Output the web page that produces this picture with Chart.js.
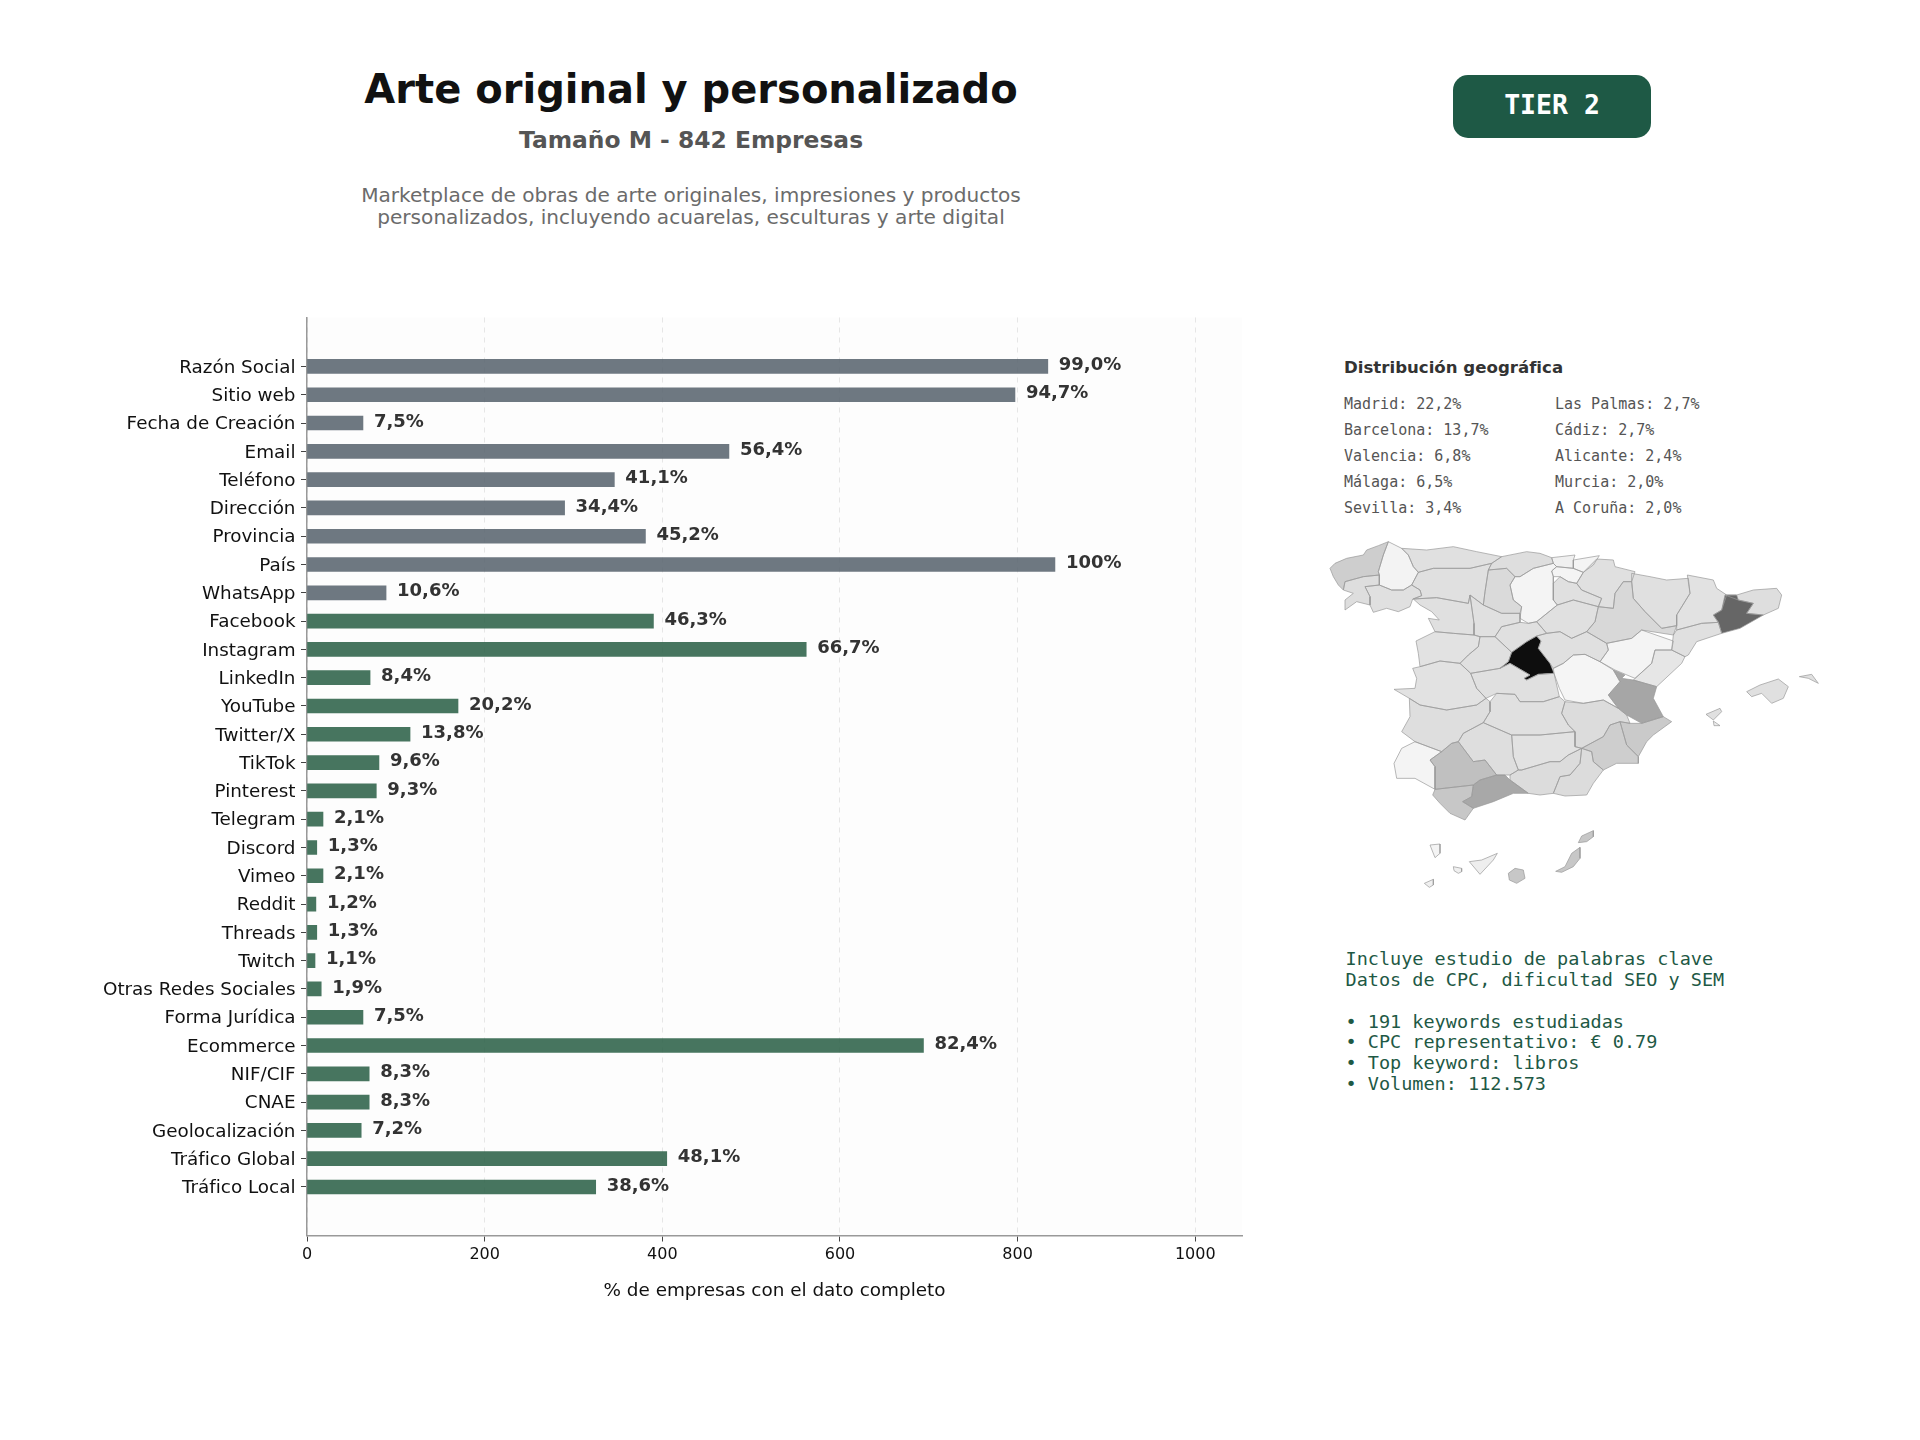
<!DOCTYPE html>
<html lang="es">
<head>
<meta charset="utf-8">
<title>Arte original y personalizado</title>
<script src="https://cdn.jsdelivr.net/npm/chart.js@4/dist/chart.umd.min.js"></script>
<style>
  html, body { margin: 0; background: #fff; }
  body { position: relative; width: 1920px; height: 1440px; overflow: hidden; font-family: "DejaVu Sans", sans-serif; }
  canvas { position: absolute; }
  .txt { position: absolute; white-space: pre; line-height: 1; }
  .mid { transform: translate(-50%, -50%); }
  .left { transform: translateY(-50%); }
  .mono { font-family: "DejaVu Sans Mono", monospace; }
  #badge { position: absolute; left: 1453px; top: 75px; width: 198px; height: 63px; border-radius: 15px; background: #1e5945; }
  #mapChart { filter: blur(0.4px); }
</style>
</head>
<body>
<div class="txt mid" style="left:691px;top:89px;font-size:40px;font-weight:bold;color:#111">Arte original y personalizado</div>
<div class="txt mid" style="left:691px;top:141px;font-size:23.4px;font-weight:bold;color:#555">Tamaño M - 842 Empresas</div>
<div class="txt mid" style="left:691px;top:195px;font-size:20.1px;color:#6b6b6b">Marketplace de obras de arte originales, impresiones y productos</div>
<div class="txt mid" style="left:691px;top:217px;font-size:20.1px;color:#6b6b6b">personalizados, incluyendo acuarelas, esculturas y arte digital</div>
<div id="badge"></div>
<div class="txt mid mono" style="left:1552px;top:105px;font-size:26.5px;font-weight:bold;color:#fff">TIER 2</div>
<div class="txt left" style="left:1344px;top:368px;font-size:16.6px;font-weight:bold;color:#333">Distribución geográfica</div>
<div id="geoList"></div>
<div id="keywordBox"></div>
<canvas id="barChart" width="1920" height="1440" style="left:0;top:0;width:1920px;height:1440px"></canvas>
<canvas id="mapChart" width="560" height="400" style="left:1300px;top:520px;width:560px;height:400px"></canvas>

<script>
const categories = ['Razón Social', 'Sitio web', 'Fecha de Creación', 'Email', 'Teléfono', 'Dirección', 'Provincia', 'País', 'WhatsApp',
  'Facebook', 'Instagram', 'LinkedIn', 'YouTube', 'Twitter/X', 'TikTok', 'Pinterest', 'Telegram', 'Discord', 'Vimeo', 'Reddit', 'Threads', 'Twitch',
  'Otras Redes Sociales', 'Forma Jurídica', 'Ecommerce', 'NIF/CIF', 'CNAE', 'Geolocalización', 'Tráfico Global', 'Tráfico Local'];
const companyCounts = [834, 797, 63, 475, 346, 290, 381, 842, 89, 390, 562, 71, 170, 116, 81, 78, 18, 11, 18, 10, 11, 9, 16, 63, 694, 70, 70, 61, 405, 325];
const percentLabels = ['99,0%', '94,7%', '7,5%', '56,4%', '41,1%', '34,4%', '45,2%', '100%', '10,6%', '46,3%', '66,7%', '8,4%', '20,2%', '13,8%', '9,6%', '9,3%',
  '2,1%', '1,3%', '2,1%', '1,2%', '1,3%', '1,1%', '1,9%', '7,5%', '82,4%', '8,3%', '8,3%', '7,2%', '48,1%', '38,6%'];
const xTickValues = [0, 200, 400, 600, 800, 1000];
const basicFieldCount = 9;

const geoLeft = ['Madrid: 22,2%', 'Barcelona: 13,7%', 'Valencia: 6,8%', 'Málaga: 6,5%', 'Sevilla: 3,4%'];
const geoRight = ['Las Palmas: 2,7%', 'Cádiz: 2,7%', 'Alicante: 2,4%', 'Murcia: 2,0%', 'A Coruña: 2,0%'];
const keywordLines = ['Incluye estudio de palabras clave', 'Datos de CPC, dificultad SEO y SEM', '', '• 191 keywords estudiadas', '• CPC representativo: € 0.79', '• Top keyword: libros', '• Volumen: 112.573'];

// province outlines, map units
const provinceNames = ['A Coruña', 'Pontevedra', 'Lugo', 'Ourense', 'Asturias', 'Cantabria', 'Vizcaya', 'Guipúzcoa', 'Álava', 'Navarra', 'La Rioja', 'Burgos', 'Palencia', 'León', 'Zamora',
  'Valladolid', 'Soria', 'Segovia', 'Salamanca', 'Ávila', 'Madrid', 'Guadalajara', 'Zaragoza', 'Huesca', 'Lleida', 'Girona', 'Barcelona', 'Tarragona', 'Teruel', 'Castellón', 'Valencia',
  'Cuenca', 'Toledo', 'Cáceres', 'Badajoz', 'Ciudad Real', 'Albacete', 'Huelva', 'Sevilla', 'Córdoba', 'Jaén', 'Granada', 'Almería', 'Málaga', 'Cádiz', 'Murcia', 'Alicante',
  'Mallorca', 'Menorca', 'Ibiza', 'Formentera', 'La Palma', 'Tenerife', 'La Gomera', 'El Hierro', 'Gran Canaria', 'Fuerteventura', 'Lanzarote'];
const provinceShares = [2.0, 1.2, 0.15, 1.1, 1.1, 1.2, 0.3, 0.1, 0.1, 1.1, 1.1, 0.1, 1.4, 1.1, 1.1,
  1.1, 1.1, 1.1, 1.0, 1.1, 22.2, 1.1, 1.5, 1.1, 1.0, 1.2, 13.7, 1.1, 0.1, 0.8, 6.8,
  0.05, 1.1, 1.0, 1.2, 1.1, 1.3, 0.1, 3.4, 1.2, 1.0, 1.3, 1.3, 6.5, 2.7, 2.0, 2.4,
  1.1, 1.1, 1.1, 0.5, 0.1, 0.4, 0.3, 0.3, 2.7, 2.7, 2.7];
const shadeStops = [0, 2, 3.4, 6.8, 13.7, 22.2];
const shadeLevels = [246, 206, 192, 166, 102, 14];
const provinceOutlines = [
  [[30,100],[45,85],[80,70],[130,60],[140,45],[175,32],[205,20],[190,60],[175,110],[178,120],[130,125],[75,140],[70,165],[55,150],[40,125]],
  [[75,225],[75,195],[100,175],[70,165],[75,140],[130,125],[178,120],[178,150],[135,155],[150,185],[150,210],[110,200]],
  [[205,20],[245,40],[265,60],[280,95],[295,112],[275,150],[250,165],[215,165],[178,150],[178,120],[175,110],[190,60]],
  [[135,155],[178,150],[215,165],[250,165],[275,150],[300,165],[305,182],[278,192],[270,215],[235,230],[200,220],[160,232],[150,210],[150,185]],
  [[245,40],[320,45],[400,35],[470,50],[545,65],[515,85],[450,100],[340,100],[295,112],[280,95],[265,60]],
  [[545,65],[620,50],[660,55],[695,68],[700,85],[640,100],[600,125],[585,125],[560,100],[505,105],[515,85]],
  [[695,68],[765,60],[760,75],[760,100],[710,95],[700,85]],
  [[760,75],[838,62],[820,90],[790,112],[760,100]],
  [[695,108],[710,95],[760,100],[790,112],[770,145],[745,140],[720,125],[700,125]],
  [[790,112],[830,72],[880,75],[885,95],[945,110],[935,140],[910,140],[885,175],[880,220],[835,215],[845,190],[785,165],[770,145]],
  [[700,145],[720,125],[745,140],[770,145],[785,165],[845,190],[835,215],[760,195],[712,210],[700,195]],
  [[570,150],[585,125],[600,125],[640,100],[700,85],[710,95],[695,108],[700,125],[700,145],[700,195],[712,210],[650,260],[625,265],[600,250],[605,215],[580,195]],
  [[505,105],[560,100],[585,125],[570,150],[580,195],[605,215],[600,235],[545,235],[490,210],[495,170]],
  [[295,112],[340,100],[450,100],[515,85],[505,105],[495,170],[490,210],[450,180],[445,205],[350,188],[280,192],[305,182],[300,165],[275,150]],
  [[280,192],[350,188],[445,205],[450,180],[462,265],[462,300],[400,295],[345,290],[325,250],[358,255],[335,230],[300,210]],
  [[450,180],[490,210],[545,235],[600,235],[600,262],[545,275],[525,305],[480,305],[462,300],[462,265]],
  [[650,260],[712,210],[760,195],[835,215],[825,260],[800,290],[755,310],[720,290],[680,295]],
  [[545,275],[600,262],[625,265],[650,260],[680,295],[650,303],[620,320],[575,352],[525,305]],
  [[288,318],[345,290],[400,295],[462,300],[480,305],[475,335],[445,360],[420,385],[360,378],[300,395],[295,355]],
  [[480,305],[525,305],[575,352],[565,380],[540,400],[452,415],[420,385],[445,360],[475,335]],
  [[650,303],[663,318],[655,340],[690,385],[702,415],[655,418],[620,435],[612,430],[630,420],[570,385],[540,400],[565,380],[575,352],[620,320]],
  [[680,295],[720,290],[755,310],[800,290],[860,325],[865,345],[840,380],[795,358],[760,360],[730,385],[700,400],[690,385],[655,340],[663,318],[650,303]],
  [[885,175],[910,140],[935,140],[940,190],[975,230],[1025,280],[1070,272],[1060,300],[965,285],[935,310],[860,325],[800,290],[825,260],[835,215],[880,220]],
  [[935,115],[990,125],[1040,135],[1105,130],[1110,175],[1070,240],[1070,272],[1025,280],[975,230],[940,190],[935,140]],
  [[1102,120],[1180,135],[1190,160],[1220,180],[1205,225],[1180,240],[1195,262],[1145,265],[1070,285],[1070,240],[1110,175]],
  [[1215,180],[1250,180],[1300,165],[1370,160],[1385,180],[1375,220],[1330,240],[1280,235],[1300,205],[1255,195]],
  [[1215,180],[1250,180],[1255,195],[1300,205],[1280,235],[1330,240],[1260,280],[1205,295],[1195,262],[1180,240],[1205,225]],
  [[1195,262],[1205,295],[1130,320],[1105,360],[1095,365],[1055,345],[1060,300],[1070,285],[1145,265]],
  [[965,285],[1060,318],[1055,345],[1005,345],[995,385],[945,430],[885,405],[840,380],[865,345],[860,325],[935,310]],
  [[1005,345],[1055,345],[1095,365],[1085,385],[1010,455],[940,435],[995,385]],
  [[880,405],[915,420],[905,430],[940,435],[1010,455],[1000,490],[1030,545],[965,565],[920,540],[895,520],[865,480],[900,440]],
  [[700,400],[730,385],[760,360],[795,358],[840,380],[880,405],[900,440],[865,480],[895,520],[850,495],[790,505],[735,495],[718,460],[702,415]],
  [[452,415],[540,400],[570,385],[630,420],[612,430],[620,435],[655,418],[702,415],[718,485],[670,500],[600,500],[585,478],[530,475],[498,490],[470,460]],
  [[278,400],[300,395],[360,378],[420,385],[452,415],[470,460],[498,490],[470,510],[380,525],[300,510],[268,490],[222,463],[285,460],[290,430]],
  [[268,490],[300,510],[380,525],[470,510],[498,490],[510,500],[510,530],[490,563],[430,595],[415,620],[395,625],[365,650],[285,620],[245,590],[270,545]],
  [[510,500],[530,475],[585,478],[600,500],[670,500],[718,485],[735,500],[725,535],[745,570],[765,590],[660,600],[575,600],[490,563],[510,530]],
  [[725,535],[735,500],[790,505],[850,495],[895,520],[920,540],[930,565],[900,560],[870,570],[850,605],[785,640],[765,635],[765,590],[745,570]],
  [[285,620],[365,650],[330,675],[345,695],[345,763],[285,730],[230,730],[222,685],[245,640]],
  [[365,650],[395,625],[415,620],[460,680],[495,675],[530,720],[480,735],[460,750],[345,763],[345,695],[330,675]],
  [[415,620],[430,595],[490,563],[575,600],[580,665],[595,705],[570,720],[530,720],[495,675],[460,680]],
  [[575,600],[660,600],[765,590],[765,635],[785,640],[745,660],[720,680],[690,680],[605,705],[595,705],[580,665]],
  [[570,720],[595,705],[605,705],[690,680],[720,680],[745,660],[785,640],[780,685],[750,720],[720,725],[700,775],[660,780],[625,775],[570,735]],
  [[785,640],[815,650],[820,680],[850,705],[820,745],[800,780],[735,783],[700,775],[720,725],[750,720],[780,685]],
  [[530,720],[555,720],[570,735],[625,775],[580,775],[520,800],[460,820],[428,800],[455,785],[460,750],[480,735]],
  [[345,763],[460,750],[455,785],[428,800],[460,820],[435,855],[390,835],[360,805],[338,780]],
  [[785,640],[850,605],[870,570],[900,560],[920,630],[955,665],[955,685],[890,685],[850,705],[820,680],[815,650]],
  [[900,560],[930,565],[965,565],[1030,545],[1055,560],[1000,600],[980,620],[955,665],[920,630]],
  [[1280,470],[1320,450],[1375,432],[1405,455],[1390,490],[1355,505],[1325,475],[1295,485]],
  [[1438,425],[1475,418],[1495,445],[1465,430]],
  [[1158,538],[1200,520],[1205,530],[1180,555]],
  [[1180,558],[1200,572],[1182,572]],
  [[330,930],[360,927],[360,955],[345,968]],
  [[448,980],[485,975],[532,955],[520,975],[480,1018]],
  [[400,995],[425,1000],[425,1010],[415,1015],[402,1007]],
  [[313,1045],[340,1033],[340,1050],[328,1057]],
  [[565,1015],[585,1000],[610,1005],[615,1030],[590,1045],[568,1035]],
  [[707,1009],[735,995],[755,955],[780,937],[780,970],[760,995],[725,1012]],
  [[775,923],[785,903],[820,887],[820,905],[800,920]],
];

const GRAY_BAR = 'rgba(85, 96, 107, 0.85)';
const GREEN_BAR = 'rgba(39, 93, 67, 0.85)';
const FONT = '"DejaVu Sans", sans-serif';

function addLines(parentId, lines, left, top, step, style) {
  const parent = document.getElementById(parentId);
  lines.forEach((line, i) => {
    const el = document.createElement('div');
    el.className = 'txt left mono';
    el.style.cssText = `left:${left}px;top:${top + i * step}px;${style}`;
    el.textContent = line;
    parent.appendChild(el);
  });
}

const plotBackground = {
  id: 'plotBackground',
  beforeDraw(chart) {
    const { ctx, chartArea: a } = chart;
    ctx.save();
    ctx.fillStyle = '#fdfdfd';
    ctx.fillRect(a.left, a.top, a.right - a.left, a.bottom - a.top);
    ctx.restore();
  },
};

const barLabels = {
  id: 'barLabels',
  afterDatasetsDraw(chart) {
    const { ctx, scales } = chart;
    ctx.save();
    ctx.font = `bold 18px ${FONT}`;
    ctx.fillStyle = '#333';
    ctx.textAlign = 'left';
    ctx.textBaseline = 'middle';
    percentLabels.forEach((label, i) => {
      ctx.fillText(label, scales.x.getPixelForValue(companyCounts[i]) + 11, scales.y.getPixelForValue(i) - 1);
    });
    ctx.restore();
  },
};

// fills each province from the points the scatter scales worked out
const provinceFill = {
  id: 'provinceFill',
  beforeDatasetsDraw(chart) {
    const { ctx } = chart;
    chart.data.datasets.forEach((dataset, i) => {
      const points = chart.getDatasetMeta(i).data;
      ctx.beginPath();
      points.forEach((p, j) => (j ? ctx.lineTo(p.x, p.y) : ctx.moveTo(p.x, p.y)));
      ctx.closePath();
      ctx.fillStyle = dataset.backgroundColor;
      ctx.fill();
    });
  },
};

function initBarChart() {
  new Chart(document.getElementById('barChart'), {
    type: 'bar',
    plugins: [plotBackground, barLabels],
    data: {
      datasets: [{
        data: companyCounts.map((count, i) => ({ x: count, y: i })),
        backgroundColor: companyCounts.map((_, i) => (i < basicFieldCount ? GRAY_BAR : GREEN_BAR)),
        barThickness: 14,
        borderWidth: 0,
      }],
    },
    options: {
      indexAxis: 'y',
      responsive: false,
      animation: false,
      devicePixelRatio: 1,
      layout: { padding: { left: 0, top: 317.5, right: 678, bottom: 138.2 } },
      plugins: { legend: { display: false }, tooltip: { enabled: false } },
      scales: {
        x: {
          type: 'linear',
          min: 0,
          max: 1052.6,
          afterBuildTicks: (scale) => { scale.ticks = xTickValues.map((value) => ({ value })); },
          grid: { color: '#e6e6e6', tickColor: '#444', tickLength: 6 },
          border: { color: '#999', width: 1.5, dash: [5, 5] },
          ticks: { color: '#111', font: { family: FONT, size: 16 }, padding: 4, maxRotation: 0, callback: (value) => String(value) },
          title: { display: true, text: '% de empresas con el dato completo', color: '#111', font: { family: FONT, size: 18.4 }, padding: { top: 11, bottom: 0 } },
        },
        y: {
          type: 'linear',
          reverse: true,
          offset: false,
          min: -1.73,
          max: 30.715,
          afterBuildTicks: (scale) => { scale.ticks = categories.map((_, value) => ({ value })); },
          afterFit: (scale) => { scale.width = 307; },
          grid: { offset: false, drawOnChartArea: false, tickColor: '#444', tickLength: 6 },
          border: { color: '#999', width: 1.5 },
          ticks: {
            color: '#111',
            autoSkip: false,
            maxRotation: 0,
            labelOffset: 1.5,
            font: { family: FONT, size: 18.35 },
            padding: 5.5,
            callback: (value) => categories[value],
          },
        },
      },
    },
  });
}

function shareToGray(share) {
  let k = 1;
  while (k < shadeStops.length - 1 && share > shadeStops[k]) k++;
  const t = (share - shadeStops[k - 1]) / (shadeStops[k] - shadeStops[k - 1]);
  const level = Math.round(shadeLevels[k - 1] + t * (shadeLevels[k] - shadeLevels[k - 1]));
  return `rgb(${level}, ${level}, ${level})`;
}

function initMapChart() {
  new Chart(document.getElementById('mapChart'), {
    type: 'scatter',
    plugins: [provinceFill],
    data: {
      datasets: provinceOutlines.map((outline, i) => ({
        label: provinceNames[i],
        data: [...outline, outline[0]].map(([x, y]) => ({ x, y })),
        showLine: true,
        tension: 0,
        pointRadius: 0,
        borderWidth: 0.7,
        borderColor: '#9a9a9a',
        backgroundColor: shareToGray(provinceShares[i]),
      })),
    },
    options: {
      responsive: false,
      animation: false,
      devicePixelRatio: 1,
      layout: { padding: 0 },
      plugins: { legend: { display: false }, tooltip: { enabled: false } },
      scales: {
        x: { type: 'linear', display: false, min: -60, max: 1620 },
        y: { type: 'linear', display: false, min: -45, max: 1155, reverse: true },
      },
    },
  });
}

window.addEventListener('DOMContentLoaded', () => {
  addLines('geoList', geoLeft, 1344, 404, 26.1, 'font-size:15px;color:#555');
  addLines('geoList', geoRight, 1555, 404, 26.1, 'font-size:15px;color:#555');
  addLines('keywordBox', keywordLines, 1345.5, 959, 20.85, 'font-size:18.5px;color:#1e5945');
  initBarChart();
  initMapChart();
});
</script>
</body>
</html>
